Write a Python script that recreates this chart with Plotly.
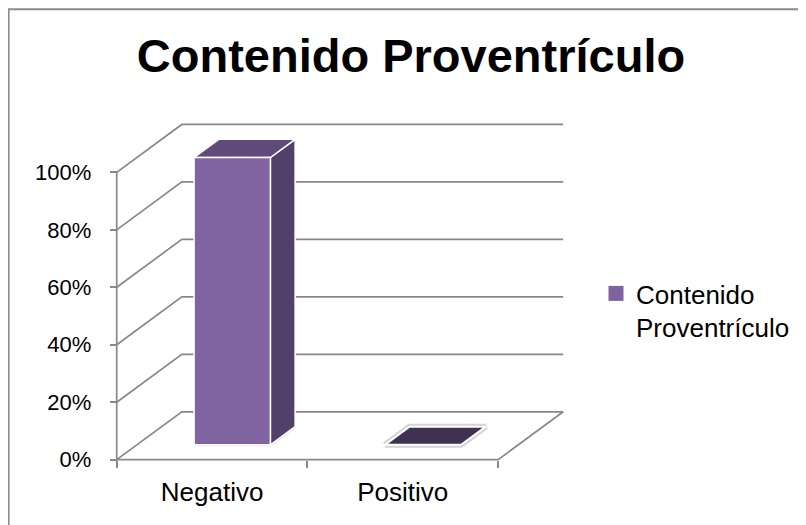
import plotly.graph_objects as go

# ---------------- data ----------------
categories = ["Negativo", "Positivo"]
values = [1.00, 0.00]
series_name = "Contenido Proventrículo"
y_ticks = [0, 0.2, 0.4, 0.6, 0.8, 1.0]
y_tick_labels = ["0%", "20%", "40%", "60%", "80%", "100%"]

# ---------------- geometry / style ----------------
W, H = 806, 525
OFF = 8                                  # page body margin of the browser
X0_PX, Y0_PX = 117 - OFF, 460 - OFF      # pixel position of the front origin (figure coords)
PX_PER_CAT = 190.5
PX_PER_VAL = 288.0
DX = 65 / PX_PER_CAT              # depth offset (category units)
DY = 48 / PX_PER_VAL              # depth offset (value units)
BAR_W = 0.40
D_FRONT, D_BACK = 0.31, 0.69

GRID = "#888888"
FRONT = "#8064A2"
SIDE = "#534069"
TOP = "#604A7B"
TOP_ZERO = "#3F3151"
FONT = "Liberation Sans, Arial, sans-serif"

n = len(categories)
XMIN, XMAX = -0.03, n + DX + 0.02
YMIN, YMAX = -0.015, 1 + DY + 0.012

ml = X0_PX + XMIN * PX_PER_CAT
mr = W - (X0_PX + XMAX * PX_PER_CAT)
mb = H - (Y0_PX - YMIN * PX_PER_VAL)
mt = Y0_PX - YMAX * PX_PER_VAL
PW, PH = W - ml - mr, H - mt - mb


def proj(x, y, d):
    return x + d * DX, y + d * DY


def ppx(px):
    return (px - ml) / PW


def ppy(py):
    return (H - mb - py) / PH


fig = go.Figure()

# walls / gridlines
gx, gy = [], []
for v in y_ticks:
    for (x, y, d) in [(0, v, 0), (0, v, 1), (n, v, 1)]:
        px, py = proj(x, y, d)
        gx.append(px); gy.append(py)
    gx.append(None); gy.append(None)
# floor front edge + right edge, front vertical axis
for pts in [[(0, 0, 0), (n, 0, 0), (n, 0, 1)], [(0, 0, 0), (0, y_ticks[-1], 0)]]:
    for (x, y, d) in pts:
        px, py = proj(x, y, d)
        gx.append(px); gy.append(py)
    gx.append(None); gy.append(None)
fig.add_trace(go.Scatter(x=gx, y=gy, mode="lines", line=dict(color=GRID, width=1.7),
                         hoverinfo="skip", showlegend=False))


def face(points, color, edge="white", ew=1.5, glow=False):
    xs, ys = [], []
    for (x, y, d) in points:
        px, py = proj(x, y, d)
        xs.append(px); ys.append(py)
    xs.append(xs[0]); ys.append(ys[0])
    if glow:
        fig.add_trace(go.Scatter(x=xs, y=ys, mode="lines", line=dict(color="#d4d4d4", width=6),
                                 hoverinfo="skip", showlegend=False))
    fig.add_trace(go.Scatter(x=xs, y=ys, mode="lines", fill="toself", fillcolor=color,
                             line=dict(color=edge, width=ew), hoverinfo="skip", showlegend=False))


for i, (cat, v) in enumerate(zip(categories, values)):
    c = i + 0.5
    xl, xr = c - BAR_W / 2, c + BAR_W / 2
    if v > 0:
        # base shadow
        face([(xl, 0, D_FRONT), (xr, 0, D_FRONT), (xr, 0, D_BACK)], "#e6e6e6", edge="#e0e0e0", ew=3)
        face([(xr, 0, D_FRONT), (xr, 0, D_BACK), (xr, v, D_BACK), (xr, v, D_FRONT)], SIDE)
        face([(xl, v, D_FRONT), (xr, v, D_FRONT), (xr, v, D_BACK), (xl, v, D_BACK)], TOP)
        face([(xl, 0, D_FRONT), (xr, 0, D_FRONT), (xr, v, D_FRONT), (xl, v, D_FRONT)], FRONT)
    else:
        face([(xl, v, D_FRONT), (xr, v, D_FRONT), (xr, v, D_BACK), (xl, v, D_BACK)], TOP_ZERO,
             ew=2, glow=True)

# legend entry
fig.add_trace(go.Scatter(x=[None], y=[None], mode="markers",
                         marker=dict(symbol="square", size=15, color=FRONT),
                         name=series_name.replace(" ", "<br>"), showlegend=True))

# chart-area border
fig.add_shape(type="rect", xref="paper", yref="paper",
              x0=ppx(1), x1=ppx(W + 10), y0=ppy(H + 10), y1=ppy(0.5),
              line=dict(color="#8c8c8c", width=2), fillcolor="rgba(0,0,0,0)", layer="below")

fig.update_layout(
    width=W, height=H, autosize=False,
    margin=dict(l=ml, r=mr, t=mt, b=mb, pad=0),
    paper_bgcolor="white", plot_bgcolor="white",
    font=dict(family=FONT, color="black"),
    title=dict(text=series_name, x=(411 - OFF) / W, xanchor="center", xref="container",
               y=1 - 48 / H, yanchor="middle", yref="container",
               font=dict(size=47, family=FONT, weight=700, color="black")),
    showlegend=True,
    legend=dict(x=588 / W, xref="container", xanchor="left",
                y=1 - 262 / H, yref="container", yanchor="top",
                font=dict(size=26, family=FONT), valign="top",
                bgcolor="rgba(0,0,0,0)", borderwidth=0),
    xaxis=dict(range=[XMIN, XMAX], tickvals=[i + 0.5 for i in range(n)], ticktext=categories,
               ticks="", showgrid=False, zeroline=False, showline=False,
               anchor="free", position=(0 - YMIN) / (YMAX - YMIN),
               tickfont=dict(size=26, family=FONT, color="black"), ticklabelstandoff=14,
               minor=dict(tickmode="array", tickvals=list(range(n + 1)), ticks="outside",
                          ticklen=7, tickcolor=GRID, tickwidth=1.7, showgrid=False),
               fixedrange=True),
    yaxis=dict(range=[YMIN, YMAX], tickvals=y_ticks, ticktext=y_tick_labels,
               ticks="outside", ticklen=7, tickcolor=GRID, tickwidth=1.7,
               showgrid=False, zeroline=False, showline=False,
               anchor="free", position=(0 - XMIN) / (XMAX - XMIN),
               tickfont=dict(size=22, family=FONT, color="black"), ticklabelstandoff=14,
               fixedrange=True),
)

fig.write_html("out.html")
